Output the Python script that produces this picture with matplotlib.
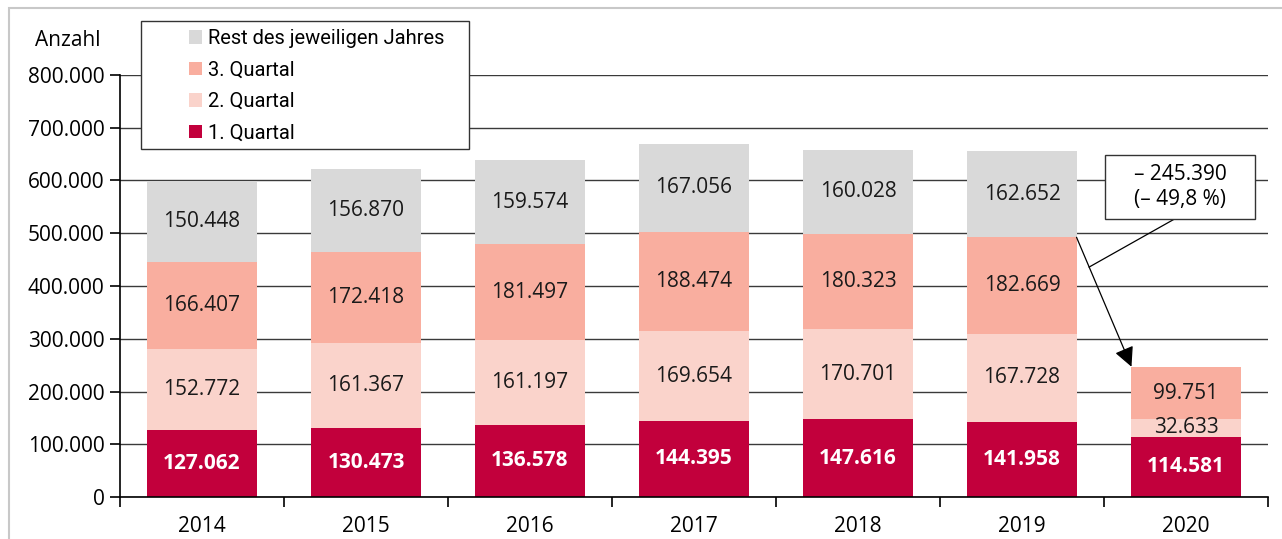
import numpy as np
import matplotlib
matplotlib.use('Agg')
import matplotlib.pyplot as plt
from matplotlib.patches import Rectangle, Patch
from matplotlib.ticker import FixedLocator, FuncFormatter

plt.rcParams['font.family'] = ['Open Sans', 'DejaVu Sans']

#data
years = ['2014', '2015', '2016', '2017', '2018', '2019', '2020']
q1 = [127062, 130473, 136578, 144395, 147616, 141958, 114581]
q2 = [152772, 161367, 161197, 169654, 170701, 167728, 32633]
q3 = [166407, 172418, 181497, 188474, 180323, 182669, 99751]
rest = [150448, 156870, 159574, 167056, 160028, 162652, 0]

series_names = ['1. Quartal', '2. Quartal', '3. Quartal', 'Rest des jeweiligen Jahres']
series_colors = ['#C2003C', '#FAD3CB', '#F9AE9F', '#D9D9D9']
label_colors = ['white', '#1a1a1a', '#1a1a1a', '#1a1a1a']

change_text = '– 245.390\n(– 49,8 %)'

fs = 15
bar_w = 0.665
W, H = 1282, 539

def fx(px):
    return px / W

def fy(py):
    return 1 - py / H

fig = plt.figure(figsize=(W/100, H/100), dpi=100)
ax = fig.add_axes([fx(120), fy(497), 1148/W, 422/H])

x = np.arange(len(years))
bottom = np.zeros(len(years))
for k, vals in enumerate([q1, q2, q3, rest]):
    vals = np.array(vals, dtype=float)
    ax.bar(x, vals, bar_w, bottom=bottom, color=series_colors[k], zorder=3, linewidth=0)
    for i in range(len(years)):
        if vals[i] <= 0:
            continue
        s = f'{int(vals[i]):,}'.replace(',', '.')
        ax.text(x[i], bottom[i] + vals[i]/2, s, ha='center', va='center',
                fontsize=fs, color=label_colors[k],
                fontweight='bold' if k == 0 else 'normal', zorder=5)
    bottom += vals

#axes styling
ax.set_xlim(-0.5, len(years) - 0.5)
ax.set_ylim(0, 800000)
ax.yaxis.set_major_locator(FixedLocator(np.arange(0, 800001, 100000)))
ax.yaxis.set_major_formatter(FuncFormatter(lambda v, p: f'{int(v):,}'.replace(',', '.')))
ax.grid(axis='y', color='#3a3a3a', linewidth=1.0, zorder=0)
ax.set_xticks(x)
ax.set_xticklabels(years)
ax.set_xticks(np.arange(-0.5, len(years)), minor=True)
ax.tick_params(axis='x', which='major', length=0, pad=14, labelsize=fs)
ax.tick_params(axis='x', which='minor', length=7, width=1.2, direction='out')
ax.tick_params(axis='y', length=7, width=1.2, direction='out', labelsize=fs, pad=4)
for side in ['top', 'right']:
    ax.spines[side].set_visible(False)
for side in ['left', 'bottom']:
    ax.spines[side].set_linewidth(1.2)
    ax.spines[side].set_zorder(4)

fig.text(fx(35), fy(41), 'Anzahl', fontsize=fs, va='center', ha='left')

#legend (reversed order) with a separate frame
fig.patches.append(Rectangle((fx(141), fy(149)), 328/W, 128/H,
                             transform=fig.transFigure, facecolor='white',
                             edgecolor='#333333', linewidth=1.0, zorder=5))
handles = [Patch(facecolor=series_colors[k], edgecolor='none') for k in [3, 2, 1, 0]]
labels = [series_names[k] for k in [3, 2, 1, 0]]
leg = fig.legend(handles, labels, loc='upper left',
                 bbox_to_anchor=(fx(189), fy(29)),
                 prop={'family': ['Roboto', 'DejaVu Sans'], 'size': 14.5},
                 frameon=False, handlelength=0.65, handleheight=0.65,
                 handletextpad=0.3, labelspacing=0.62, borderpad=0,
                 borderaxespad=0)
leg.set_zorder(10)

#annotation of the drop in 2020
tail = (5 + bar_w/2, q1[5] + q2[5] + q3[5])
head = (6 - bar_w/2, q1[6] + q2[6] + q3[6])
ax.annotate('', xy=head, xytext=tail,
            arrowprops=dict(arrowstyle='-|>', color='black', lw=0.9,
                            mutation_scale=30, shrinkA=0, shrinkB=0),
            zorder=6)
t = 0.23
mid = (tail[0] + t*(head[0] - tail[0]), tail[1] + t*(head[1] - tail[1]))
box_x0, box_x1 = 5.506, 6.421
box_y0, box_y1 = 527000, 648000
ax.plot([5.93, mid[0]], [box_y0, mid[1]], color='black', lw=0.9, zorder=6)
ax.add_patch(Rectangle((box_x0, box_y0), box_x1 - box_x0, box_y1 - box_y0,
                       facecolor='white', edgecolor='#333333', linewidth=1.0,
                       zorder=7))
ax.text((box_x0 + box_x1)/2, (box_y0 + box_y1)/2, change_text, ha='center',
        va='center', fontsize=fs, linespacing=1.25, zorder=8)

#light grey frame around the figure
fig.patches.append(Rectangle((fx(9), -0.1), 1.2, 1.1 - 8/H,
                             transform=fig.transFigure, fill=False,
                             edgecolor='#C8C8C8', linewidth=1.5))

fig.savefig('out.png', dpi=100)
